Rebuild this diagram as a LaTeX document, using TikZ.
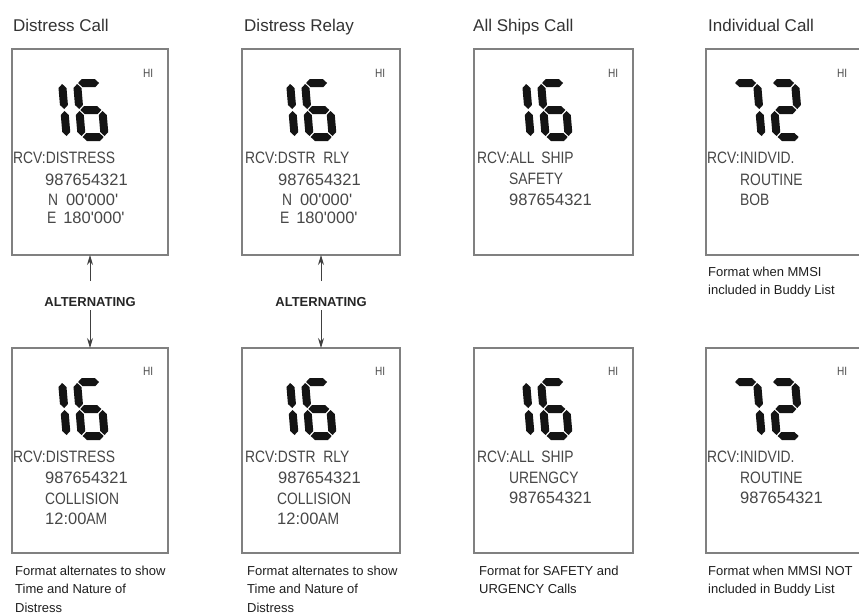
\documentclass[tikz,border=0pt]{standalone}
\usepackage{fontspec}
\setmainfont{Liberation Sans}
\newfontfamily\lcdfont[FakeStretch=0.84]{Liberation Sans}
\newfontfamily\lcdnum{Liberation Sans}
\usetikzlibrary{arrows.meta}
\newcommand\dg[1]{{\lcdnum #1}}
% seven segment pieces (local frame, y up, cell 31 x 62)
\newcommand\SA{\fill[seg] (5,58)--(9,62)--(22,62)--(26,58)--(22,54)--(9,54)--cycle;}
\newcommand\SG{\fill[seg] (5,31)--(9,35)--(22,35)--(26,31)--(22,27)--(9,27)--cycle;}
\newcommand\SD{\fill[seg] (5,4)--(9,8)--(22,8)--(26,4)--(22,0)--(9,0)--cycle;}
\newcommand\SB{\fill[seg] (27,32)--(31,36)--(31,53)--(27,57)--(23,53)--(23,36)--cycle;}
\newcommand\SC{\fill[seg] (27,5)--(31,9)--(31,26)--(27,30)--(23,26)--(23,9)--cycle;}
\newcommand\SF{\fill[seg] (4,32)--(8,36)--(8,53)--(4,57)--(0,53)--(0,36)--cycle;}
\newcommand\SE{\fill[seg] (4,5)--(8,9)--(8,26)--(4,30)--(0,26)--(0,9)--cycle;}
\newcommand\sevenseg[3]{\begin{scope}[shift={(#1,#2)},yscale=-1,xslant=0.085]#3\end{scope}}
\newcommand\digOne[2]{\sevenseg{#1}{#2}{\SB\SC}}
\newcommand\digSix[2]{\sevenseg{#1}{#2}{\SA\SF\SG\SE\SC\SD}}
\newcommand\digSeven[2]{\sevenseg{#1}{#2}{\SA\SB\SC}}
\newcommand\digTwo[2]{\sevenseg{#1}{#2}{\SA\SB\SG\SE\SD}}
\begin{document}
\begin{tikzpicture}[x=1pt,y=-1pt,
  lcdbox/.style={draw=black!50, line width=1.4pt, minimum width=#1, minimum height=206pt, inner sep=0pt, outer sep=0pt, anchor=north west},
  titletxt/.style={anchor=base west, inner sep=0pt, text=black!80, font=\fontsize{17}{17}\selectfont},
  lcdtxt/.style={anchor=base west, inner sep=0pt, text=black!72, font=\lcdfont\fontsize{16.5}{16.5}\selectfont},
  hitxt/.style={anchor=base west, inner sep=0pt, text=black!70, font=\lcdfont\fontsize{12}{12}\selectfont},
  captxt/.style={anchor=base west, inner sep=0pt, text=black!88, font=\fontsize{13}{13}\selectfont},
  alttxt/.style={inner sep=0pt, text=black!85, font=\bfseries\fontsize{13}{13}\selectfont},
  arr/.style={draw=black!75, line width=0.9pt, -{Stealth[length=10pt,width=6pt]}},
  seg/.style={fill=black!92, draw=none}]
\useasboundingbox (0,0) rectangle (859,614);
\fill[white] (0,0) rectangle (859,614);
\clip (0,0) rectangle (859,614);

% titles
\node[titletxt] (t1) at (13,31) {Distress Call};
\node[titletxt] (t2) at (244,31) {Distress Relay};
\node[titletxt] (t3) at (473,31) {All Ships Call};
\node[titletxt] (t4) at (708,31) {Individual Call};

% boxes
\node[lcdbox=156pt] (b1t) at (12,49) {};
\node[lcdbox=158pt] (b2t) at (242,49) {};
\node[lcdbox=159pt] (b3t) at (474,49) {};
\node[lcdbox=158pt] (b4t) at (706,49) {};
\node[lcdbox=156pt, minimum height=205pt] (b1b) at (12,348) {};
\node[lcdbox=158pt, minimum height=205pt] (b2b) at (242,348) {};
\node[lcdbox=159pt, minimum height=205pt] (b3b) at (474,348) {};
\node[lcdbox=158pt, minimum height=205pt] (b4b) at (706,348) {};

% digits
\digOne{40}{141}\digSix{78}{141}
\digOne{268}{141}\digSix{306}{141}
\digOne{504}{141}\digSix{542}{141}
\digSeven{735}{141}\digTwo{773}{141}
\digOne{40}{440}\digSix{78}{440}
\digOne{268}{440}\digSix{306}{440}
\digOne{504}{440}\digSix{542}{440}
\digSeven{735}{440}\digTwo{773}{440}

% HI
\node[hitxt] (h1t) at (143,77) {HI};
\node[hitxt] (h2t) at (375,77) {HI};
\node[hitxt] (h3t) at (608,77) {HI};
\node[hitxt] (h4t) at (837,77) {HI};
\node[hitxt] (h1b) at (143,375) {HI};
\node[hitxt] (h2b) at (375,375) {HI};
\node[hitxt] (h3b) at (608,375) {HI};
\node[hitxt] (h4b) at (837,375) {HI};

% box 1 top
\node[lcdtxt] (l1a) at (13,163) {RCV:DISTRESS};
\node[lcdtxt] (l1b) at (45,185) {\dg{987654321}};
\node[lcdtxt] (l1c) at (48,205) {N\hspace{4pt} \dg{00'000'}};
\node[lcdtxt] (l1d) at (47,223) {E\hspace{3pt} \dg{180'000'}};
% box 1 bottom
\node[lcdtxt] (m1a) at (13,462) {RCV:DISTRESS};
\node[lcdtxt] (m1b) at (45,483) {\dg{987654321}};
\node[lcdtxt] (m1c) at (45,504) {COLLISION};
\node[lcdtxt] (m1d) at (45,524) {\dg{12:00}AM};
% box 2 top
\node[lcdtxt] (l2a) at (245,163) {RCV:DSTR\hspace{4pt} RLY};
\node[lcdtxt] (l2b) at (278,185) {\dg{987654321}};
\node[lcdtxt] (l2c) at (282,205) {N\hspace{4pt} \dg{00'000'}};
\node[lcdtxt] (l2d) at (280,223) {E\hspace{3pt} \dg{180'000'}};
% box 2 bottom
\node[lcdtxt] (m2a) at (245,462) {RCV:DSTR\hspace{4pt} RLY};
\node[lcdtxt] (m2b) at (278,483) {\dg{987654321}};
\node[lcdtxt] (m2c) at (277,504) {COLLISION};
\node[lcdtxt] (m2d) at (277,524) {\dg{12:00}AM};
% box 3
\node[lcdtxt] (l3a) at (477,163) {RCV:ALL\hspace{3pt} SHIP};
\node[lcdtxt] (l3b) at (509,184) {SAFETY};
\node[lcdtxt] (l3c) at (509,205) {\dg{987654321}};
\node[lcdtxt] (m3a) at (477,462) {RCV:ALL\hspace{3pt} SHIP};
\node[lcdtxt] (m3b) at (509,483) {URENGCY};
\node[lcdtxt] (m3c) at (509,503) {\dg{987654321}};
% box 4
\node[lcdtxt] (l4a) at (707,163) {RCV:INIDVID.};
\node[lcdtxt] (l4b) at (740,185) {ROUTINE};
\node[lcdtxt] (l4c) at (740,205) {BOB};
\node[lcdtxt] (m4a) at (707,462) {RCV:INIDVID.};
\node[lcdtxt] (m4b) at (740,483) {ROUTINE};
\node[lcdtxt] (m4c) at (740,503) {\dg{987654321}};

% alternating labels and arrows
\node[alttxt] (alt1) at (90,302.5) {ALTERNATING};
\node[alttxt] (alt2) at (321,302.5) {ALTERNATING};
\coordinate (a1u) at (90,281);
\coordinate (a1d) at (90,310);
\coordinate (a2u) at (321,281);
\coordinate (a2d) at (321,310);
\draw[arr] (a1u) -- (b1t.south);
\draw[arr] (a1d) -- (b1b.north);
\draw[arr] (a2u) -- (b2t.south);
\draw[arr] (a2d) -- (b2b.north);

% captions
\node[captxt] (c1a) at (15,575) {Format alternates to show};
\node[captxt] (c1b) at (15,593.5) {Time and Nature of};
\node[captxt] (c1c) at (15,612) {Distress};
\node[captxt] (c2a) at (247,575) {Format alternates to show};
\node[captxt] (c2b) at (247,593.5) {Time and Nature of};
\node[captxt] (c2c) at (247,612) {Distress};
\node[captxt] (c3a) at (479,575) {Format for SAFETY and};
\node[captxt] (c3b) at (479,593.5) {URGENCY Calls};
\node[captxt] (c4a) at (708,276) {Format when MMSI};
\node[captxt] (c4b) at (708,294) {included in Buddy List};
\node[captxt] (c4c) at (708,575) {Format when MMSI NOT};
\node[captxt] (c4d) at (708,593.5) {included in Buddy List};
\end{tikzpicture}
\end{document}
